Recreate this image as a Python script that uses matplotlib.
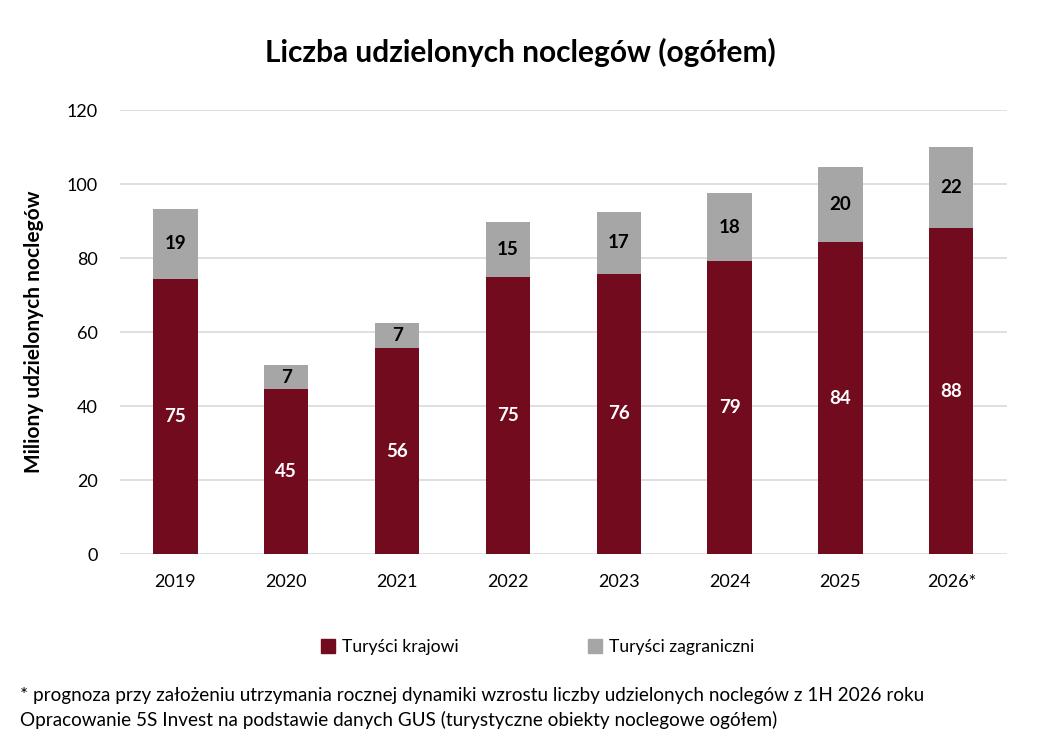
import matplotlib.pyplot as plt
import numpy as np
from matplotlib.patches import Patch

# dane (mln noclegów)
lata = ["2019", "2020", "2021", "2022", "2023", "2024", "2025", "2026*"]
krajowi = [74.5, 44.6, 55.6, 75.0, 75.8, 79.2, 84.3, 88.1]
zagraniczni = [18.7, 6.5, 7.0, 14.7, 16.8, 18.3, 20.3, 21.9]
etykiety_krajowi = ["75", "45", "56", "75", "76", "79", "84", "88"]
etykiety_zagraniczni = ["19", "7", "7", "15", "17", "18", "20", "22"]

kolor_krajowi = "#720B1E"
kolor_zagraniczni = "#A6A6A6"

plt.rcParams['font.family'] = ['Lato', 'DejaVu Sans']

fig = plt.figure(figsize=(10.4, 7.49), dpi=100)
ax = fig.add_axes([0.1154, 0.26, 0.8526, 0.593])

x = np.arange(len(lata))
b1 = ax.bar(x, krajowi, width=0.4, color=kolor_krajowi, zorder=2)
b2 = ax.bar(x, zagraniczni, width=0.4, bottom=krajowi, color=kolor_zagraniczni, zorder=2)

ax.bar_label(b1, labels=etykiety_krajowi, label_type='center', color='white',
             fontsize=13.5, fontweight='bold')
ax.bar_label(b2, labels=etykiety_zagraniczni, label_type='center', color='black',
             fontsize=13.5, fontweight='bold')

ax.set_xlim(-0.5, len(lata) - 0.5)
ax.set_ylim(0, 120)
ax.set_yticks(range(0, 121, 20))
ax.set_xticks(x)
ax.set_xticklabels(lata)
ax.grid(axis='y', color='#D9D9D9', linewidth=1.2, zorder=0)
for s in ax.spines.values():
    s.set_visible(False)
ax.tick_params(axis='both', length=0, labelsize=13, colors='black')
ax.tick_params(axis='y', pad=16)
ax.tick_params(axis='x', pad=14)

ax.set_ylabel("Miliony udzielonych noclegów", fontsize=15, fontweight='bold', labelpad=16)

fig.text(0.5, 0.93, "Liczba udzielonych noclegów (ogółem)", ha='center', va='center',
         fontsize=21.5, fontweight='bold')

uchwyty = [Patch(color=kolor_krajowi, label="Turyści krajowi"),
           Patch(color=kolor_zagraniczni, label="Turyści zagraniczni")]
fig.legend(handles=uchwyty, loc='center', bbox_to_anchor=(0.517, 0.136), ncol=2,
           frameon=False, fontsize=12.6, handlelength=0.8, handleheight=0.8,
           handletextpad=0.4, columnspacing=7.4)

fig.text(0.019, 0.072, "* prognoza przy założeniu utrzymania rocznej dynamiki wzrostu liczby "
         "udzielonych noclegów z 1H 2026 roku", ha='left', va='center', fontsize=13.6)
fig.text(0.019, 0.039, "Opracowanie 5S Invest na podstawie danych GUS (turystyczne obiekty "
         "noclegowe ogółem)", ha='left', va='center', fontsize=13.6)

fig.savefig("out.png", dpi=100)
